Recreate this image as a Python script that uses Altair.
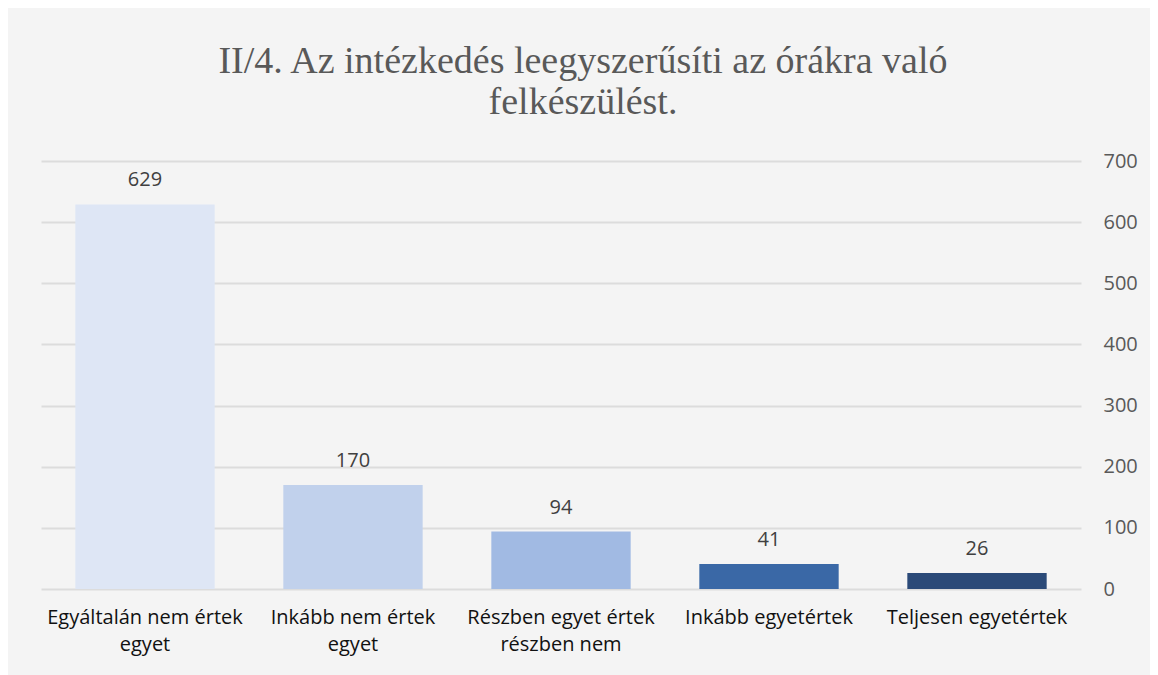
import altair as alt
import pandas as pd

categories = [
    "Egyáltalán nem értek egyet",
    "Inkább nem értek egyet",
    "Részben egyet értek részben nem",
    "Inkább egyetértek",
    "Teljesen egyetértek",
]
label_lines = [
    ["Egyáltalán nem értek", "egyet"],
    ["Inkább nem értek", "egyet"],
    ["Részben egyet értek", "részben nem"],
    ["Inkább egyetértek"],
    ["Teljesen egyetértek"],
]
values = [629, 170, 94, 41, 26]
colors = ["#dee6f5", "#c1d1ec", "#a1bae3", "#3a68a6", "#2b4a78"]
title_lines = ["II/4. Az intézkedés leegyszerűsíti az órákra való", "felkészülést."]

df = pd.DataFrame({"cat": categories, "val": values})

label_map = {c: "|".join(l) for c, l in zip(categories, label_lines)}
expr_parts = " : ".join(
    [f"datum.value == '{c}' ? split('{label_map[c]}', '|')" for c in categories]
) + " : datum.value"

FONT = "Open Sans"

x = alt.X(
    "cat:N",
    sort=categories,
    title=None,
    scale=alt.Scale(paddingInner=0.33, paddingOuter=0.165),
    axis=alt.Axis(
        labelAngle=0,
        labelExpr=expr_parts,
        labelFont=FONT,
        labelFontSize=20,
        labelColor="#111111",
        labelPadding=18,
        labelLineHeight=27,
        labelLimit=400,
        ticks=False,
        domain=False,
        grid=False,
    ),
)

y = alt.Y(
    "val:Q",
    title=None,
    scale=alt.Scale(domain=[0, 700], nice=False),
    axis=alt.Axis(
        orient="right",
        values=[0, 100, 200, 300, 400, 500, 600, 700],
        labelFont=FONT,
        labelFontSize=20,
        labelColor="#595959",
        labelPadding=22,
        ticks=False,
        domain=False,
        grid=True,
        gridColor="#dcdcdc",
        gridWidth=2,
    ),
)

bars = alt.Chart(df).mark_bar().encode(
    x=x,
    y=y,
    color=alt.Color("cat:N", sort=categories, scale=alt.Scale(domain=categories, range=colors), legend=None),
)

text = alt.Chart(df).mark_text(
    font=FONT, fontSize=20, color="#404040", baseline="alphabetic", dy=-18
).encode(
    x=alt.X("cat:N", sort=categories),
    y=alt.Y("val:Q"),
    text="val:Q",
)

chart = (
    alt.layer(bars, text)
    .properties(
        width=1040,
        height=428,
        background="#f4f4f4",
        padding={"left": 33, "top": 153, "right": 69, "bottom": 86},
        autosize=alt.AutoSizeParams(type="none"),
        title=alt.TitleParams(
            text=title_lines,
            font="Liberation Serif",
            fontSize=38,
            fontWeight="normal",
            color="#595959",
            anchor="middle",
            baseline="alphabetic",
            offset=50,
            dy=51,
            dx=22,
            lineHeight=41,
        ),
    )
    .configure_view(stroke=None)
)

chart.save("out.html", embed_options={"renderer": "svg", "actions": False})
